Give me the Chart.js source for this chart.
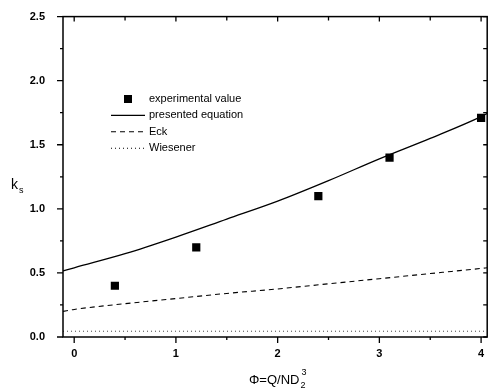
<!DOCTYPE html>
<html>
<head>
<meta charset="utf-8">
<script src="https://cdn.jsdelivr.net/npm/chart.js@4"></script>
<style>
  html, body { margin: 0; padding: 0; background: #fff; }
  #wrap { width: 493px; height: 391px; }
</style>
</head>
<body>
<div id="wrap"><canvas id="ksChart" width="493" height="391"></canvas></div>
<script>
// measured points
const expPhi = [0.4, 1.2, 2.4, 3.1, 4.0];
const expKs = [0.40, 0.70, 1.10, 1.40, 1.71];

// curves
const curvePhi = [-0.11, 0, 0.5, 1, 1.5, 2, 2.5, 3, 3.5, 4, 4.06];
const presentedKs = [0.515, 0.54, 0.65, 0.78, 0.92, 1.06, 1.22, 1.39, 1.55, 1.72, 1.745];
const eckKs = [0.20, 0.215, 0.26, 0.30, 0.34, 0.375, 0.415, 0.455, 0.495, 0.535, 0.54];
const wiesenerKs = [0.045, 0.045, 0.045, 0.045, 0.045, 0.045, 0.045, 0.045, 0.045, 0.045, 0.045];

const seriesLabels = ['experimental value', 'presented equation', 'Eck', 'Wiesener'];
const xTickValues = [0, 1, 2, 3, 4];
const yTickValues = [0, 0.5, 1, 1.5, 2, 2.5];

const FONT = '"Liberation Sans", Arial, sans-serif';

function pts(xs, ys) {
    return xs.map((x, i) => ({ x: x, y: ys[i] }));
}

// frame, tick marks, legend and axis titles
const decorPlugin = {
    id: 'decor',
    afterDraw(chart) {
        const ctx = chart.ctx;
        const a = chart.chartArea;
        const xs = chart.scales.x;
        const ys = chart.scales.y;
        ctx.save();
        ctx.strokeStyle = '#000';
        ctx.lineWidth = 1.5;
        ctx.setLineDash([]);
        ctx.strokeRect(a.left, a.top, a.right - a.left, a.bottom - a.top);

        ctx.lineWidth = 1.3;
        ctx.beginPath();
        // x ticks
        for (let v = 0; v <= 4.001; v += 0.5) {
            const px = xs.getPixelForValue(v);
            const major = Math.abs(v - Math.round(v)) < 1e-6;
            ctx.moveTo(px, a.bottom);
            ctx.lineTo(px, a.bottom + (major ? 6 : 3));
            ctx.moveTo(px, a.top);
            ctx.lineTo(px, a.top + (major ? 5 : 4));
        }
        // y ticks
        for (let v = 0; v <= 2.501; v += 0.25) {
            const py = ys.getPixelForValue(v);
            const major = Math.abs(v * 2 - Math.round(v * 2)) < 1e-6;
            ctx.moveTo(a.left, py);
            ctx.lineTo(a.left - (major ? 6 : 3), py);
            ctx.moveTo(a.right, py);
            ctx.lineTo(a.right - 4, py);
        }
        ctx.stroke();

        // legend
        const lx0 = 111, lx1 = 145, tx = 149;
        ctx.font = '11px ' + FONT;
        ctx.fillStyle = '#000';
        ctx.textBaseline = 'middle';
        ctx.textAlign = 'left';
        chart.data.datasets.forEach((ds, i) => {
            const y = 99 + i * 16.4;
            if (i === 0) {
                ctx.fillRect(124, y - 4, 8, 8);
            } else {
                ctx.beginPath();
                ctx.lineWidth = 1.1;
                ctx.setLineDash(ds.borderDash || []);
                ctx.moveTo(lx0, y);
                ctx.lineTo(lx1, y);
                ctx.stroke();
                ctx.setLineDash([]);
            }
            ctx.fillText(ds.label, tx, y);
        });

        // y title: k_s
        ctx.textBaseline = 'alphabetic';
        ctx.font = '14px ' + FONT;
        ctx.fillText('k', 11, 189);
        ctx.font = '9px ' + FONT;
        ctx.fillText('s', 19, 193);

        // x title: Φ=Q/ND_2^3
        ctx.font = '13px ' + FONT;
        let x = 249;
        const base = 384;
        const main = '\u03A6=Q/ND';
        ctx.fillText(main, x, base);
        x += ctx.measureText(main).width + 1;
        ctx.font = '9px ' + FONT;
        ctx.fillText('2', x, base + 4);
        ctx.fillText('3', x + 1, base - 9);
        ctx.restore();
    }
};

new Chart(document.getElementById('ksChart').getContext('2d'), {
    type: 'scatter',
    data: {
        datasets: [
            {
                label: seriesLabels[0],
                data: pts(expPhi, expKs),
                pointStyle: 'rect',
                pointRadius: 5.8,
                backgroundColor: '#000',
                borderColor: '#000',
                borderWidth: 0,
                showLine: false
            },
            {
                label: seriesLabels[1],
                type: 'line',
                data: pts(curvePhi, presentedKs),
                borderColor: '#000',
                borderWidth: 1.3,
                pointRadius: 0,
                cubicInterpolationMode: 'monotone'
            },
            {
                label: seriesLabels[2],
                type: 'line',
                data: pts(curvePhi, eckKs),
                borderColor: '#000',
                borderWidth: 1.1,
                borderDash: [5, 4],
                pointRadius: 0,
                cubicInterpolationMode: 'monotone'
            },
            {
                label: seriesLabels[3],
                type: 'line',
                data: pts(curvePhi, wiesenerKs),
                borderColor: '#444',
                borderWidth: 1,
                borderDash: [1, 3],
                pointRadius: 0
            }
        ]
    },
    options: {
        responsive: false,
        animation: false,
        layout: { padding: { left: 0, right: 4, top: 14, bottom: 0 } },
        plugins: {
            legend: { display: false },
            tooltip: { enabled: false }
        },
        scales: {
            x: {
                type: 'linear',
                min: -0.11,
                max: 4.06,
                grid: { display: false },
                border: { display: false },
                afterBuildTicks: (s) => { s.ticks = xTickValues.map(v => ({ value: v })); },
                afterFit: (s) => { s.height = 54; },
                ticks: {
                    padding: 2,
                    color: '#000',
                    font: { family: FONT, size: 11, weight: 'bold' },
                    callback: (v) => String(v)
                }
            },
            y: {
                type: 'linear',
                min: 0,
                max: 2.5,
                grid: { display: false },
                border: { display: false },
                afterBuildTicks: (s) => { s.ticks = yTickValues.map(v => ({ value: v })); },
                afterFit: (s) => { s.width = 63; },
                ticks: {
                    padding: 10,
                    color: '#000',
                    font: { family: FONT, size: 11, weight: 'bold' },
                    callback: (v) => v.toFixed(1)
                }
            }
        }
    },
    plugins: [decorPlugin]
});
</script>
</body>
</html>
